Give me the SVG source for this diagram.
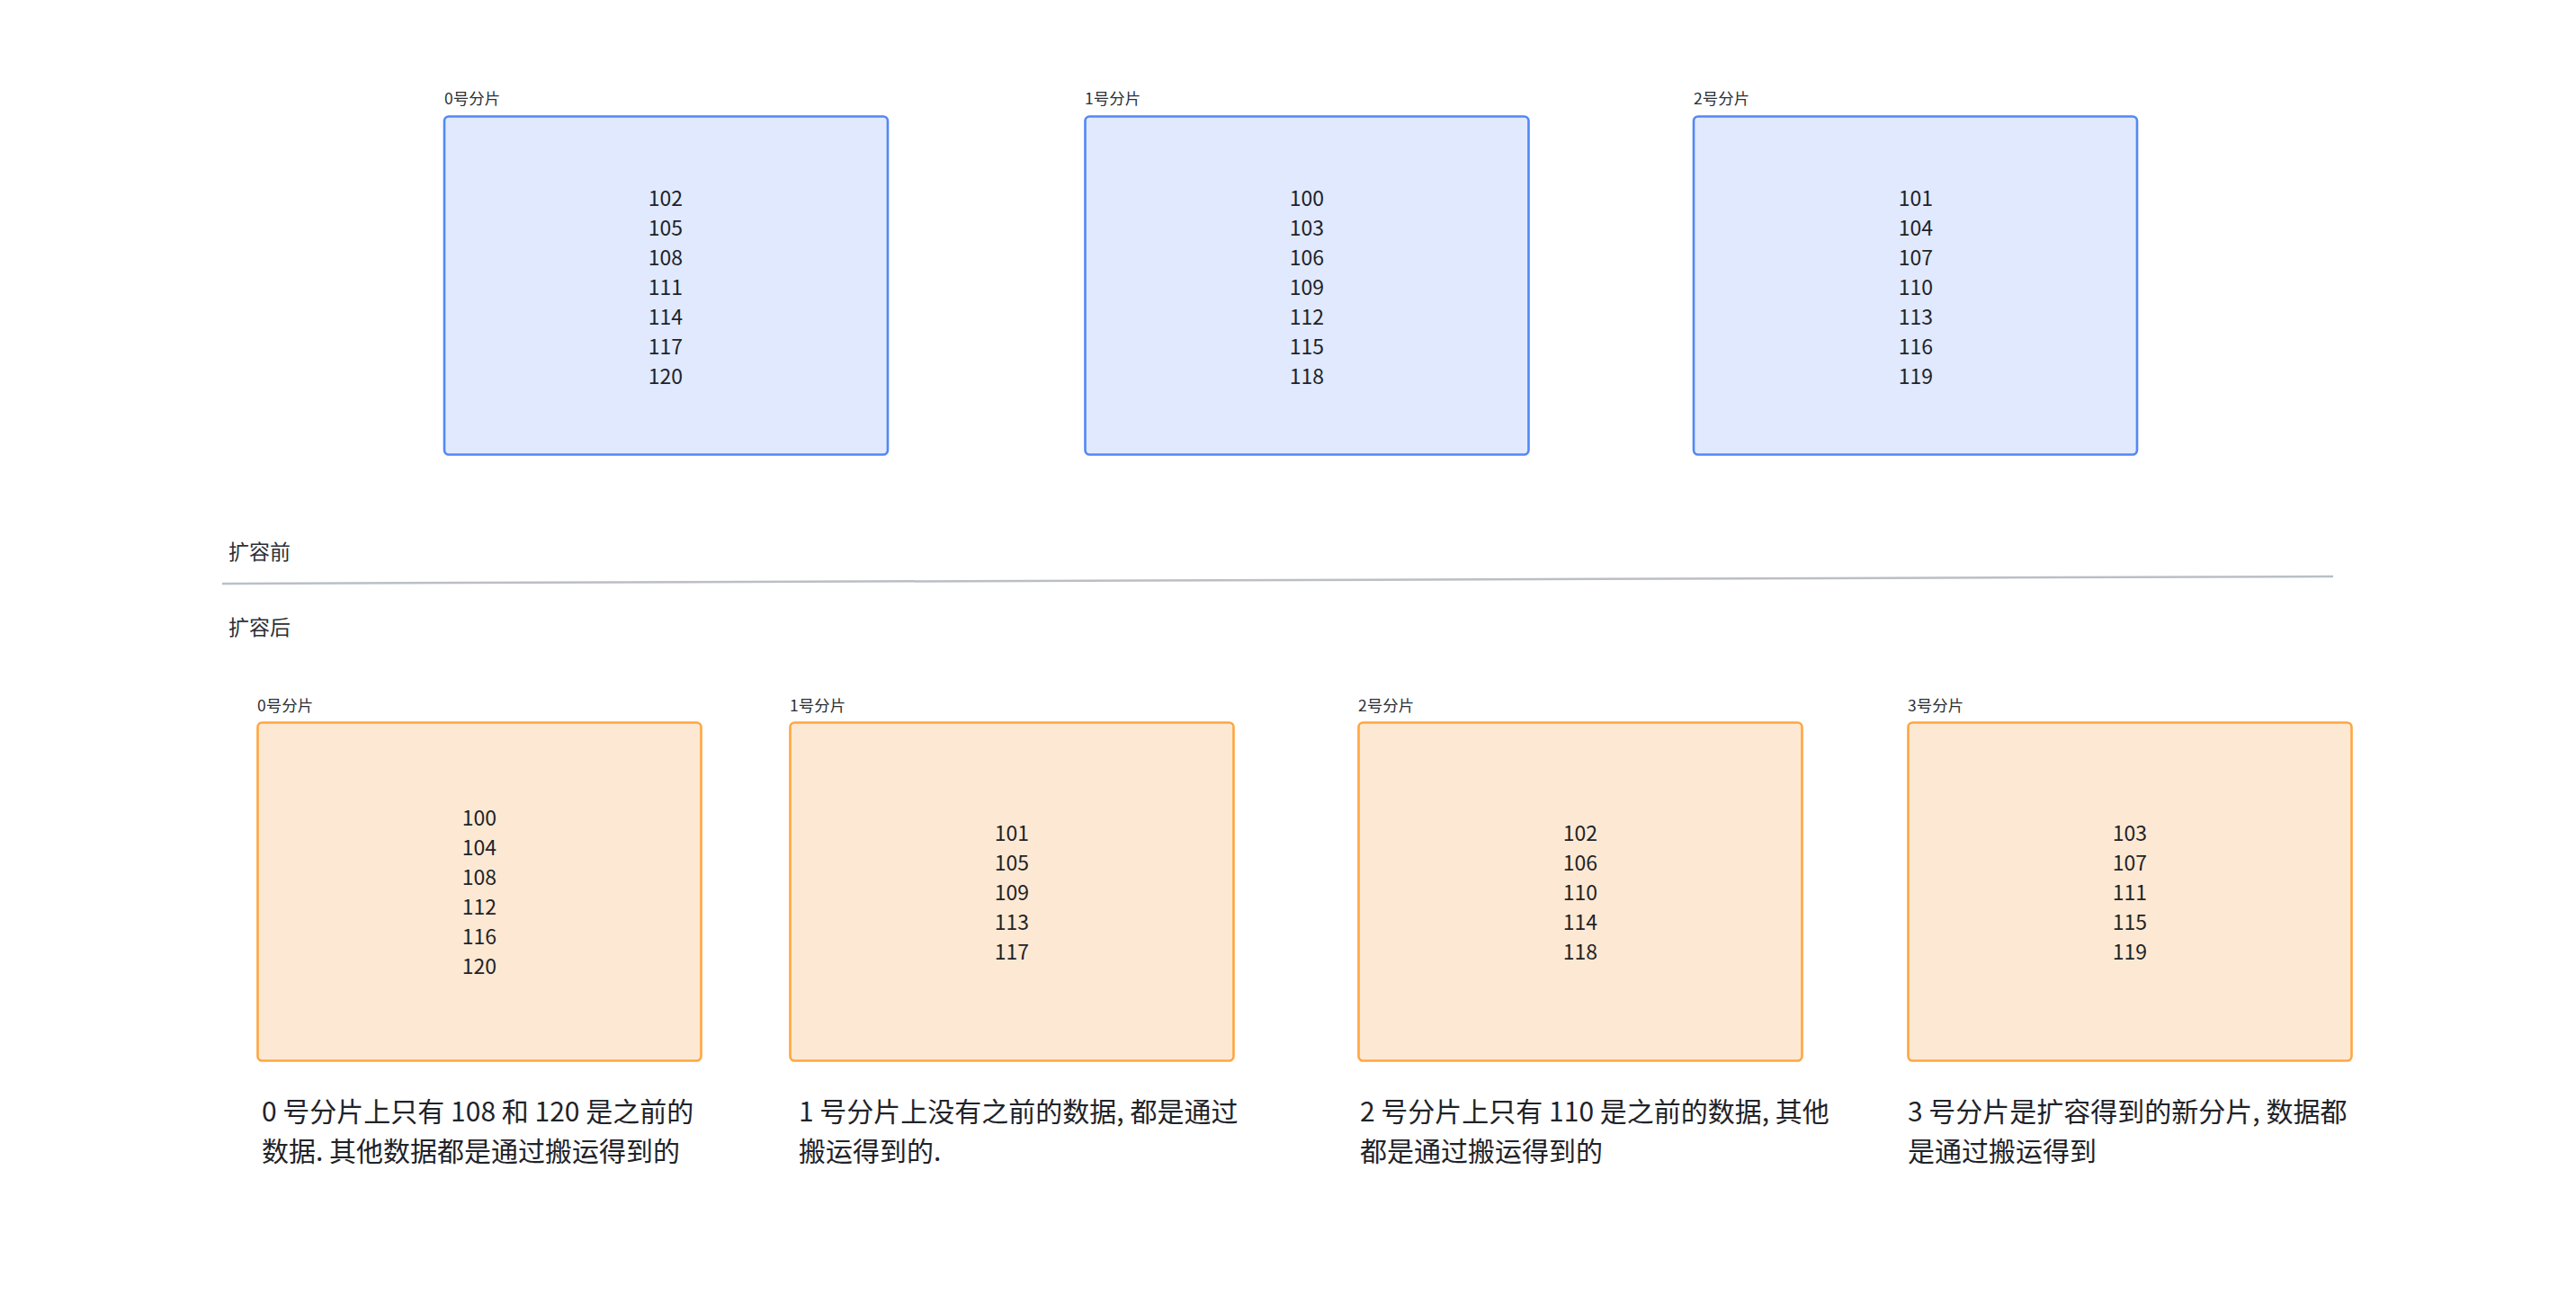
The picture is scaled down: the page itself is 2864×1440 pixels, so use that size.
<svg xmlns="http://www.w3.org/2000/svg" width="2864" height="1440" viewBox="0 0 2864 1440">
<style>
text { font-family: "Noto Sans CJK SC", "Noto Sans", sans-serif; }
.blue { fill: #E0E9FD; stroke: #5288F6; stroke-width: 2.6; }
.orange { fill: #FDE9D3; stroke: #FFA640; stroke-width: 2.6; }
.lbl { font-size: 17.5px; fill: #2B2F36; }
.num { font-size: 23px; fill: #1F2329; text-anchor: middle; }
.sec { font-size: 23px; fill: #2B2F36; }
.cap { font-size: 30px; fill: #1F2329; }
.div { stroke: #BBBFC4; stroke-width: 2.5; fill: none; }
</style>
<rect width="2864" height="1440" fill="#FFFFFF"/>

<g id="top-shard-0">
<text class="lbl" x="494" y="116">0号分片</text>
<rect class="blue" x="494" y="129.5" width="493" height="376" rx="5"/>
<text class="num" x="740"><tspan x="740" y="229">102</tspan><tspan x="740" y="262">105</tspan><tspan x="740" y="295">108</tspan><tspan x="740" y="328">111</tspan><tspan x="740" y="361">114</tspan><tspan x="740" y="394">117</tspan><tspan x="740" y="427">120</tspan></text>
</g>

<g id="top-shard-1">
<text class="lbl" x="1206" y="116">1号分片</text>
<rect class="blue" x="1206.5" y="129.5" width="493" height="376" rx="5"/>
<text class="num" x="1453"><tspan x="1453" y="229">100</tspan><tspan x="1453" y="262">103</tspan><tspan x="1453" y="295">106</tspan><tspan x="1453" y="328">109</tspan><tspan x="1453" y="361">112</tspan><tspan x="1453" y="394">115</tspan><tspan x="1453" y="427">118</tspan></text>
</g>

<g id="top-shard-2">
<text class="lbl" x="1883" y="116">2号分片</text>
<rect class="blue" x="1883" y="129.5" width="493" height="376" rx="5"/>
<text class="num" x="2130"><tspan x="2130" y="229">101</tspan><tspan x="2130" y="262">104</tspan><tspan x="2130" y="295">107</tspan><tspan x="2130" y="328">110</tspan><tspan x="2130" y="361">113</tspan><tspan x="2130" y="394">116</tspan><tspan x="2130" y="427">119</tspan></text>
</g>

<g id="divider">
<text class="sec" x="254" y="622">扩容前</text>
<line class="div" x1="247" y1="649" x2="2594" y2="641"/>
<text class="sec" x="254" y="706">扩容后</text>
</g>

<g id="bottom-shard-0">
<text class="lbl" x="286" y="791">0号分片</text>
<rect class="orange" x="286.5" y="803.5" width="493" height="376" rx="5"/>
<text class="num" x="533"><tspan x="533" y="918">100</tspan><tspan x="533" y="951">104</tspan><tspan x="533" y="984">108</tspan><tspan x="533" y="1017">112</tspan><tspan x="533" y="1050">116</tspan><tspan x="533" y="1083">120</tspan></text>
<text class="cap" x="291"><tspan x="291" y="1247">0 号分片上只有 108 和 120 是之前的</tspan><tspan x="291" y="1291">数据. 其他数据都是通过搬运得到的</tspan></text>
</g>

<g id="bottom-shard-1">
<text class="lbl" x="878" y="791">1号分片</text>
<rect class="orange" x="878.5" y="803.5" width="493" height="376" rx="5"/>
<text class="num" x="1125"><tspan x="1125" y="935">101</tspan><tspan x="1125" y="968">105</tspan><tspan x="1125" y="1001">109</tspan><tspan x="1125" y="1034">113</tspan><tspan x="1125" y="1067">117</tspan></text>
<text class="cap" x="888"><tspan x="888" y="1247">1 号分片上没有之前的数据, 都是通过</tspan><tspan x="888" y="1291">搬运得到的.</tspan></text>
</g>

<g id="bottom-shard-2">
<text class="lbl" x="1510" y="791">2号分片</text>
<rect class="orange" x="1510.5" y="803.5" width="493" height="376" rx="5"/>
<text class="num" x="1757"><tspan x="1757" y="935">102</tspan><tspan x="1757" y="968">106</tspan><tspan x="1757" y="1001">110</tspan><tspan x="1757" y="1034">114</tspan><tspan x="1757" y="1067">118</tspan></text>
<text class="cap" x="1512"><tspan x="1512" y="1247">2 号分片上只有 110 是之前的数据, 其他</tspan><tspan x="1512" y="1291">都是通过搬运得到的</tspan></text>
</g>

<g id="bottom-shard-3">
<text class="lbl" x="2121" y="791">3号分片</text>
<rect class="orange" x="2121.5" y="803.5" width="493" height="376" rx="5"/>
<text class="num" x="2368"><tspan x="2368" y="935">103</tspan><tspan x="2368" y="968">107</tspan><tspan x="2368" y="1001">111</tspan><tspan x="2368" y="1034">115</tspan><tspan x="2368" y="1067">119</tspan></text>
<text class="cap" x="2121"><tspan x="2121" y="1247">3 号分片是扩容得到的新分片, 数据都</tspan><tspan x="2121" y="1291">是通过搬运得到</tspan></text>
</g>
</svg>
